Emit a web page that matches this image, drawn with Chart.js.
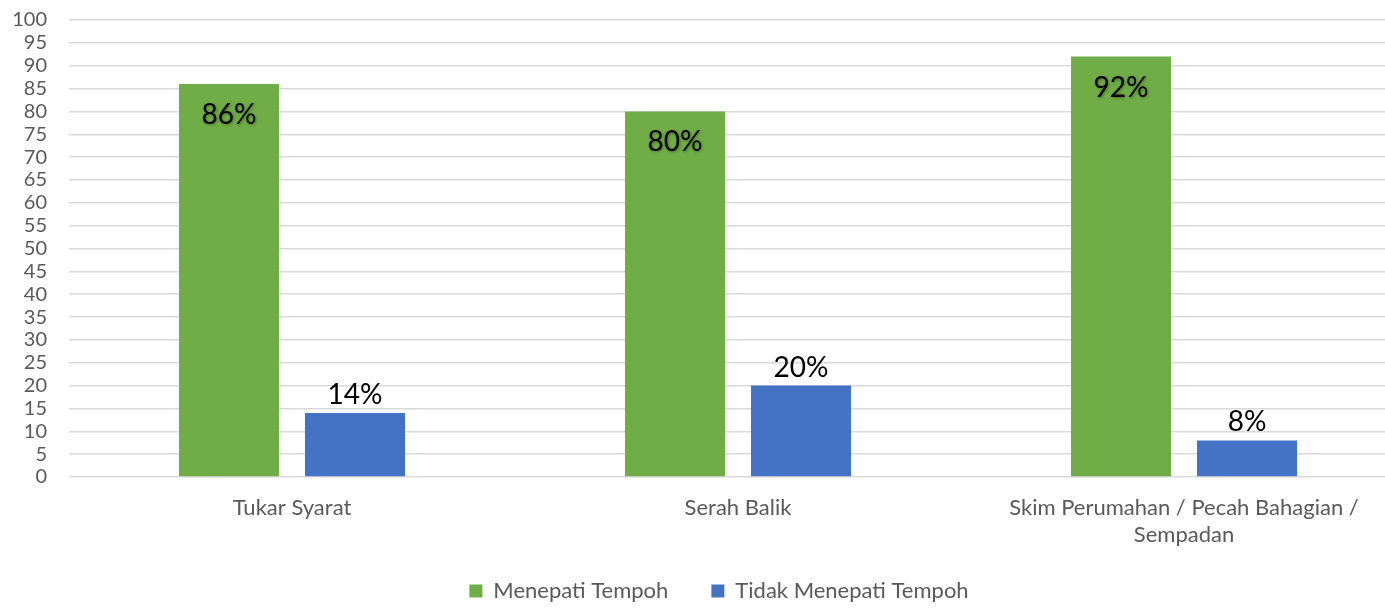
<!DOCTYPE html>
<html>
<head>
<meta charset="utf-8">
<script src="https://cdn.jsdelivr.net/npm/chart.js@4/dist/chart.umd.min.js"></script>
<style>
    html, body { margin: 0; padding: 0; background: #fff; overflow: hidden; }
    #wrap { width: 1436px; height: 608px; }
</style>
</head>
<body>
<div id="wrap"><canvas id="chart" width="1436" height="608"></canvas></div>
<script>
// categories and series
const categories = [
    'Tukar Syarat',
    'Serah Balik',
    ['Skim Perumahan / Pecah Bahagian /', 'Sempadan']
];
const menepati = [86, 80, 92];
const tidakMenepati = [14, 20, 8];
const seriesNames = ['Menepati Tempoh', 'Tidak Menepati Tempoh'];

const FONT = 'Lato, "Open Sans", sans-serif';
const GREY = '#595959';

// percent labels drawn on bars
const barLabels = {
    id: 'barLabels',
    afterInit(chart) {
        // keep wide gaps between legend items without a tall legend box
        const lg = chart.legend;
        const fit = lg.fit.bind(lg);
        lg.fit = function () { fit(); this.height = 71; };
    },
    afterLayout(chart) {
        // let the two-line category label run below the axis box
        chart.scales.x.bottom += 30;
        chart.legend.left += 10;
        chart.legend.right += 10;
    },
    afterDatasetsDraw(chart) {
        const ctx = chart.ctx;
        chart.data.datasets.forEach((ds, di) => {
            const meta = chart.getDatasetMeta(di);
            meta.data.forEach((bar, i) => {
                ctx.save();
                ctx.font = '28px ' + FONT;
                ctx.fillStyle = '#000';
                ctx.textAlign = 'center';
                ctx.textBaseline = 'middle';
                let y;
                if (di === 0) {
                    y = bar.y + 31;
                    ctx.shadowColor = 'rgba(0,0,0,0.35)';
                    ctx.shadowBlur = 3;
                    ctx.shadowOffsetX = 1;
                    ctx.shadowOffsetY = 1;
                } else {
                    y = bar.y - 18;
                }
                ctx.fillText(ds.data[i] + '%', bar.x, y);
                ctx.restore();
            });
        });
    }
};

new Chart(document.getElementById('chart'), {
    type: 'bar',
    data: {
        labels: categories,
        datasets: [{
            label: seriesNames[0],
            data: menepati,
            backgroundColor: '#70ad47',
            categoryPercentage: 0.565,
            barPercentage: 0.794
        }, {
            label: seriesNames[1],
            data: tidakMenepati,
            backgroundColor: '#4472c4',
            categoryPercentage: 0.565,
            barPercentage: 0.794
        }]
    },
    options: {
        responsive: false,
        animation: false,
        layout: { padding: { left: 11, right: 29, top: 0, bottom: 0 } },
        scales: {
            y: {
                min: 0,
                max: 100,
                ticks: { stepSize: 5, autoSkip: false, color: GREY, font: { family: FONT, size: 20 }, padding: 22 },
                grid: { color: '#d9d9d9', lineWidth: 1.5, drawTicks: false },
                border: { display: false },
                afterFit: (scale) => {
                    scale.width = 58;
                    scale.paddingTop = 20;
                    scale.paddingBottom = 0;
                }
            },
            x: {
                ticks: { color: GREY, font: { family: FONT, size: 22 }, padding: 18, maxRotation: 0 },
                grid: { display: false, drawTicks: false },
                border: { display: false },
                afterFit: (scale) => { scale.height = 60; }
            }
        },
        plugins: {
            legend: {
                position: 'bottom',
                labels: {
                    color: GREY,
                    font: { family: FONT, size: 22 },
                    boxWidth: 13,
                    boxHeight: 13,
                    padding: 43
                }
            },
            tooltip: { enabled: false }
        }
    },
    plugins: [barLabels]
});
</script>
</body>
</html>
